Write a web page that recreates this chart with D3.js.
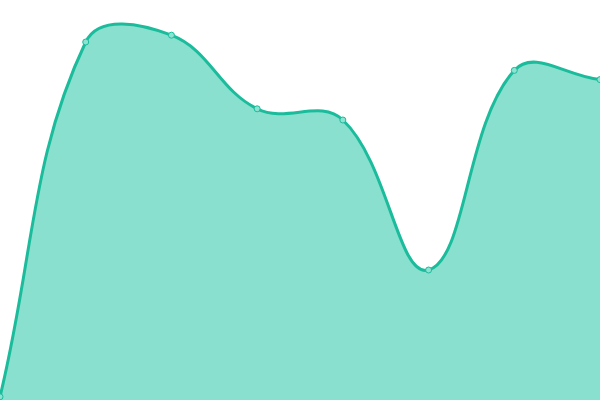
<!DOCTYPE html>
<html>
<head>
<meta charset="utf-8">
<script src="https://cdn.jsdelivr.net/npm/d3@7"></script>
<style>
  html, body { margin: 0; padding: 0; background: #fff; }
  svg { display: block; }
</style>
</head>
<body>
<div id="chart"></div>
<script>
// data
var labels = ['1', '2', '3', '4', '5', '6', '7', '8'];
var values = [0.8, 89.5, 91.2, 72.8, 70, 32.5, 82.4, 80.1];

var width = 600, height = 400;
var tension = 0.4;

var x = d3.scalePoint()
    .domain(labels)
    .range([0, width]);

var y = d3.scaleLinear()
    .domain([0, 100])
    .range([height, 0]);

// spline with distance weighted control points
function SplineCurve(context) { this._context = context; }
SplineCurve.prototype = {
    areaStart: function() { this._line = 0; },
    areaEnd: function() { this._line = NaN; },
    lineStart: function() { this._pts = []; },
    lineEnd: function() {
        var p = this._pts, c = this._context, n = p.length, i;
        if (!n) return;
        var cps = p.map(function(cur, i) {
            var prev = p[i - 1] || cur, next = p[i + 1] || cur;
            var d01 = Math.hypot(cur[0] - prev[0], cur[1] - prev[1]);
            var d12 = Math.hypot(next[0] - cur[0], next[1] - cur[1]);
            var s01 = d01 / (d01 + d12), s12 = d12 / (d01 + d12);
            s01 = isNaN(s01) ? 0 : s01; s12 = isNaN(s12) ? 0 : s12;
            var fa = tension * s01, fb = tension * s12;
            return {
                a: [cur[0] - fa * (next[0] - prev[0]), cur[1] - fa * (next[1] - prev[1])],
                b: [cur[0] + fb * (next[0] - prev[0]), cur[1] + fb * (next[1] - prev[1])]
            };
        });
        if (this._line) c.lineTo(p[0][0], p[0][1]); else c.moveTo(p[0][0], p[0][1]);
        for (i = 1; i < n; i++) {
            c.bezierCurveTo(cps[i - 1].b[0], cps[i - 1].b[1], cps[i].a[0], cps[i].a[1], p[i][0], p[i][1]);
        }
        if (this._line || (this._line !== 0 && n === 1)) c.closePath();
        this._line = 1 - this._line;
    },
    point: function(px, py) { this._pts.push([+px, +py]); }
};
function curveSpline(context) { return new SplineCurve(context); }

var svg = d3.select('#chart').append('svg')
    .attr('width', width)
    .attr('height', height);

var line = d3.line()
    .x(function(d, i) { return x(labels[i]); })
    .y(function(d) { return y(d); })
    .curve(curveSpline);

var linePath = line(values);

svg.append('path')
    .attr('d', linePath + 'L' + width + ',' + height + 'L0,' + height + 'Z')
    .attr('fill', '#89e0cf');

svg.append('path')
    .attr('d', linePath)
    .attr('fill', 'none')
    .attr('stroke', '#1abc9c')
    .attr('stroke-width', 3);

svg.selectAll('.dot')
    .data(values)
    .enter().append('circle')
    .attr('class', 'dot')
    .attr('cx', function(d, i) { return x(labels[i]); })
    .attr('cy', function(d) { return y(d); })
    .attr('r', 3)
    .attr('fill', '#8de3d1')
    .attr('stroke', '#1abc9c')
    .attr('stroke-width', 1);
</script>
</body>
</html>
